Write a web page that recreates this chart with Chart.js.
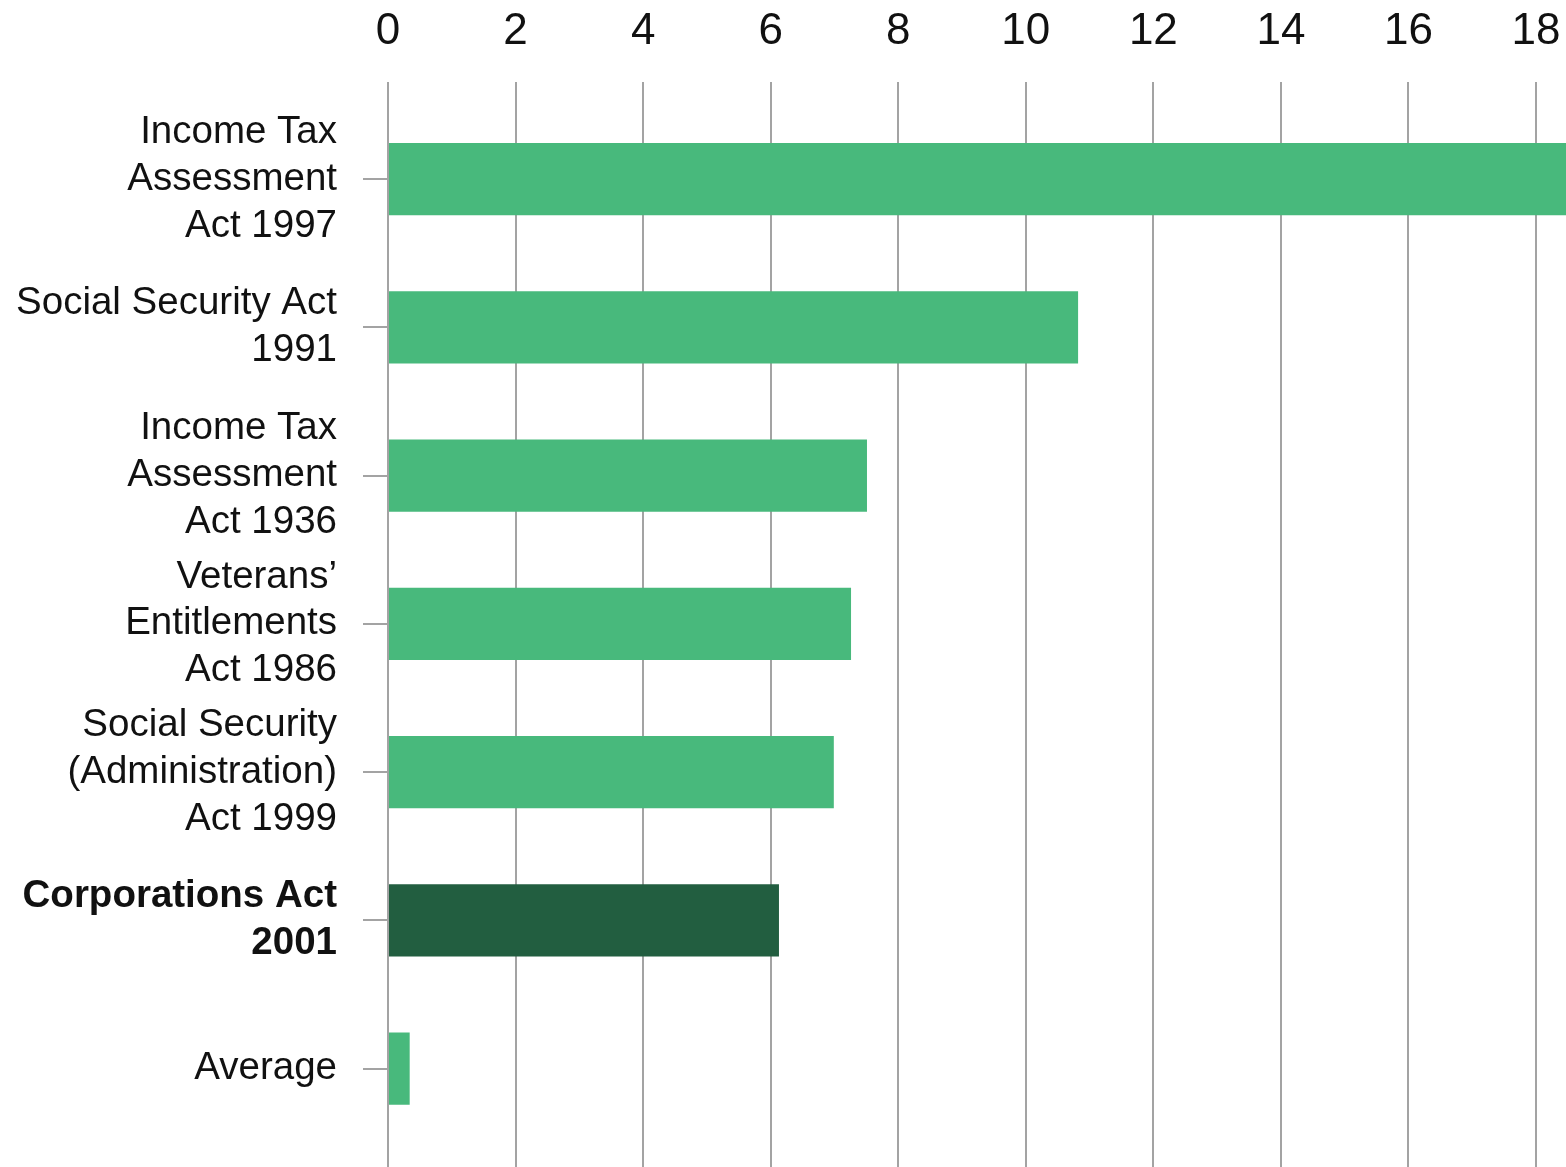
<!DOCTYPE html>
<html>
<head>
<meta charset="utf-8">
<script src="https://cdn.jsdelivr.net/npm/chart.js@4"></script>
<style>
  html, body { margin: 0; padding: 0; background: #fff; overflow: hidden; }
  #wrap { width: 1566px; height: 1291px; }
</style>
</head>
<body>
<div id="wrap"><canvas id="chart"></canvas></div>
<script>
const categories = [
    ["Income Tax", "Assessment", "Act 1997"],
    ["Social Security Act", "1991"],
    ["Income Tax", "Assessment", "Act 1936"],
    ["Veterans\u2019", "Entitlements", "Act 1986"],
    ["Social Security", "(Administration)", "Act 1999"],
    ["Corporations Act", "2001"],
    "Average"
];
const values = [18.6, 10.82, 7.51, 7.26, 6.99, 6.13, 0.34];
const highlightIndex = 5;
const xTicks = [0, 2, 4, 6, 8, 10, 12, 14, 16, 18];

const LIGHT = "#48b97c";
const DARK = "#225e40";
const GRID = "#a3a3a3";

// a blank spacer row at the bottom lets the grid run past the visible edge
const labels = [...categories, ""];
const data = [...values, null];

new Chart(document.getElementById("chart"), {
    type: "bar",
    data: {
        labels: labels,
        datasets: [{
            data: data,
            backgroundColor: data.map((v, i) => i === highlightIndex ? DARK : LIGHT),
            borderWidth: 0,
            categoryPercentage: 1,
            barPercentage: 0.486
        }]
    },
    options: {
        indexAxis: "y",
        responsive: true,
        maintainAspectRatio: false,
        animation: false,
        layout: { padding: 0 },
        plugins: {
            legend: { display: false },
            tooltip: { enabled: false }
        },
        scales: {
            x: {
                position: "top",
                min: 0,
                max: 18.47,
                afterFit: s => {
                    s.height = 105;
                    s.paddingLeft = 0;
                    s.paddingRight = 0;
                },
                afterBuildTicks: s => { s.ticks = xTicks.map(v => ({ value: v })); },
                ticks: {
                    includeBounds: false,
                    autoSkip: false,
                    maxRotation: 0,
                    padding: 24,
                    color: "#111",
                    font: { family: "'Liberation Sans', Arial, sans-serif", size: 44 }
                },
                grid: {
                    color: GRID,
                    lineWidth: 2,
                    drawTicks: true,
                    tickLength: 23
                },
                border: { display: false }
            },
            y: {
                afterFit: s => {
                    s.width = 388;
                    s.paddingTop = 0;
                    s.paddingBottom = 0;
                },
                ticks: {
                    autoSkip: false,
                    padding: 26,
                    color: "#111",
                    font: ctx => ({
                        family: "'Liberation Sans', Arial, sans-serif",
                        size: 38.5,
                        lineHeight: 1.22,
                        weight: ctx.index === highlightIndex ? "bold" : "normal"
                    })
                },
                grid: {
                    offset: false,
                    drawOnChartArea: false,
                    drawTicks: true,
                    tickLength: 25,
                    color: GRID,
                    lineWidth: 2
                },
                border: { display: false }
            }
        }
    }
});
</script>
</body>
</html>
